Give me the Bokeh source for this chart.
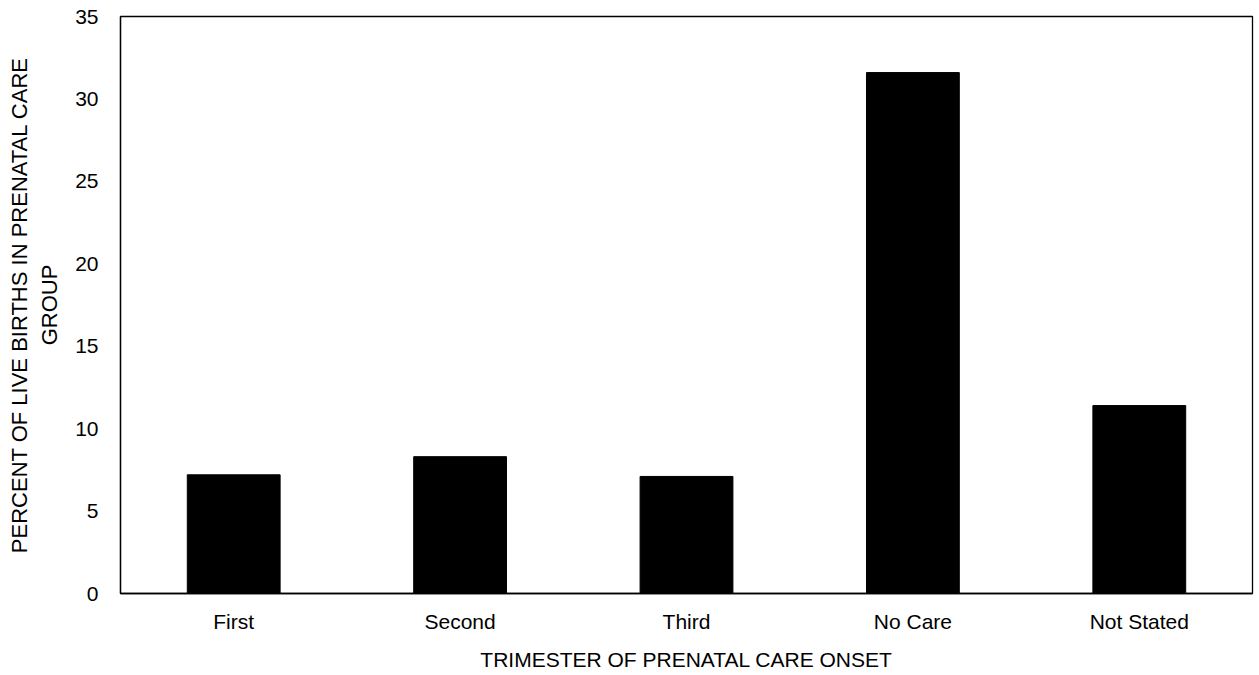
from bokeh.plotting import figure
from bokeh.models import Range1d, FixedTicker
from bokeh.embed import file_html
from bokeh.resources import INLINE

categories = ["First", "Second", "Third", "No Care", "Not Stated"]
percent = [7.2, 8.3, 7.1, 31.6, 11.4]
y_ticks = [0, 5, 10, 15, 20, 25, 30, 35]
y_title = "PERCENT OF LIVE BIRTHS IN PRENATAL CARE\nGROUP"
x_title = "TRIMESTER OF PRENATAL CARE ONSET"

FONT = "Liberation Sans"

p = figure(x_range=categories, width=1256, height=675,
           output_backend="svg", toolbar_location=None,
           min_border_left=120, min_border_right=4, min_border_top=16,
           min_border_bottom=82)
p.y_range = Range1d(0, 35)

p.vbar(x=categories, top=percent, width=0.41, fill_color="black", line_color="black")

p.xgrid.visible = False
p.ygrid.visible = False
p.outline_line_color = "black"
p.outline_line_width = 1.3
p.background_fill_color = "white"
p.border_fill_color = "white"

p.yaxis.ticker = FixedTicker(ticks=y_ticks)
p.yaxis.major_tick_line_color = None
p.yaxis.minor_tick_line_color = None
p.yaxis.axis_line_color = "black"
p.yaxis.axis_line_width = 1.3
p.yaxis.major_label_text_font = FONT
p.yaxis.major_label_text_font_size = "21px"
p.yaxis.major_label_text_color = "black"
p.yaxis.major_label_standoff = 16
p.yaxis.axis_label = y_title
p.yaxis.axis_label_text_font = FONT
p.yaxis.axis_label_text_font_style = "normal"
p.yaxis.axis_label_text_font_size = "22px"
p.yaxis.axis_label_text_color = "black"
p.yaxis.axis_label_standoff = 10

p.xaxis.major_tick_line_color = None
p.xaxis.minor_tick_line_color = None
p.xaxis.axis_line_color = "black"
p.xaxis.axis_line_width = 1.3
p.xaxis.major_label_text_font = FONT
p.xaxis.major_label_text_font_size = "21px"
p.xaxis.major_label_text_color = "black"
p.xaxis.major_label_standoff = 10
p.xaxis.axis_label = x_title
p.xaxis.axis_label_text_font = FONT
p.xaxis.axis_label_text_font_style = "normal"
p.xaxis.axis_label_text_font_size = "21px"
p.xaxis.axis_label_text_color = "black"
p.xaxis.axis_label_standoff = 12

open("out.html", "w").write(file_html(p, INLINE))
